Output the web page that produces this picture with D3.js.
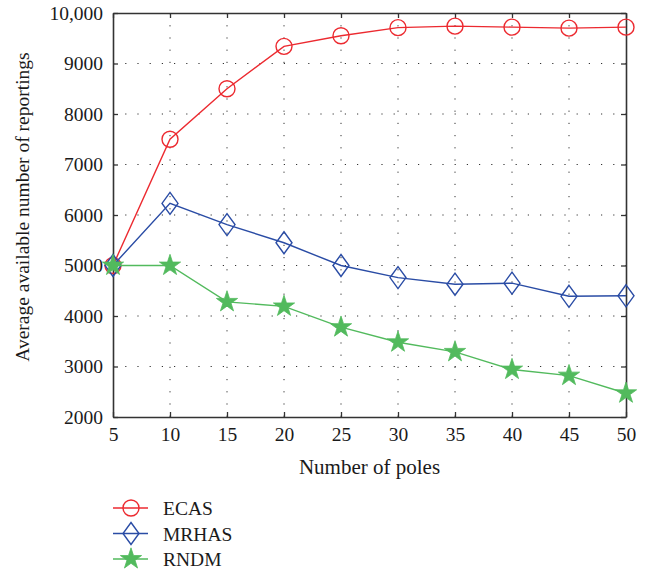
<!DOCTYPE html>
<html>
<head>
<meta charset="utf-8">
<script src="https://cdn.jsdelivr.net/npm/d3@7"></script>
<style>
  body { margin: 0; background: #fff; }
  text { font-family: 'Liberation Serif', 'DejaVu Serif', serif; fill: #1a1a1a; }
</style>
</head>
<body>
<svg id="chart" width="658" height="576"></svg>
<script>
'use strict';

// chart data
const poles = [5, 10, 15, 20, 25, 30, 35, 40, 45, 50];
const ecas = [5000, 7500, 8500, 9340, 9550, 9710, 9740, 9720, 9700, 9720];
const mrhas = [5000, 6230, 5810, 5450, 5000, 4760, 4630, 4650, 4390, 4400];
const rndm = [5000, 5000, 4280, 4190, 3780, 3480, 3290, 2940, 2820, 2470];
const yTicks = [2000, 3000, 4000, 5000, 6000, 7000, 8000, 9000, 10000];
const seriesNames = ['ECAS', 'MRHAS', 'RNDM'];

const margin = { top: 13, right: 32, bottom: 159, left: 113 };
const width = 658 - margin.left - margin.right;
const height = 576 - margin.top - margin.bottom;

const svg = d3.select('#chart');
const g = svg
  .append('g')
  .attr('transform', 'translate(' + margin.left + ',' + margin.top + ')');

const x = d3.scaleLinear().domain([5, 50]).range([0, width]);
const y = d3.scaleLinear().domain([2000, 10000]).range([height, 0]);

// dotted grid
g.selectAll('.vgrid')
  .data(poles.slice(1, -1))
  .enter()
  .append('line')
  .attr('x1', d => x(d))
  .attr('x2', d => x(d))
  .attr('y1', 0)
  .attr('y2', height)
  .attr('stroke', '#333')
  .attr('stroke-width', 1)
  .attr('stroke-dasharray', '1.2,11');
g.selectAll('.hgrid')
  .data(yTicks.slice(1, -1))
  .enter()
  .append('line')
  .attr('x1', 0)
  .attr('x2', width)
  .attr('y1', d => y(d))
  .attr('y2', d => y(d))
  .attr('stroke', '#333')
  .attr('stroke-width', 1)
  .attr('stroke-dasharray', '1.2,11');

// axes with inward ticks on all four sides
const fmt = d => (d === 10000 ? '10,000' : String(d));
const axisStyle = sel => {
  sel.select('.domain').attr('stroke', '#333').attr('stroke-width', 1.6);
  sel.selectAll('.tick line').attr('stroke', '#333').attr('stroke-width', 1.3);
  sel.selectAll('text').style('font-size', '19.5px').attr('fill', '#1a1a1a');
};

g.append('g')
  .attr('transform', 'translate(0,' + height + ')')
  .call(d3.axisBottom(x).tickValues(poles).tickSizeInner(-5).tickSizeOuter(0).tickPadding(10))
  .call(axisStyle);
g.append('g')
  .call(d3.axisTop(x).tickValues(poles).tickSizeInner(-5).tickSizeOuter(0).tickFormat(''))
  .call(axisStyle);
g.append('g')
  .call(d3.axisLeft(y).tickValues(yTicks).tickSizeInner(-5).tickSizeOuter(0).tickPadding(10).tickFormat(fmt))
  .call(axisStyle);
g.append('g')
  .attr('transform', 'translate(' + width + ',0)')
  .call(d3.axisRight(y).tickValues(yTicks).tickSizeInner(-5).tickSizeOuter(0).tickFormat(''))
  .call(axisStyle);

// axis titles
svg
  .append('text')
  .attr('x', margin.left + width / 2)
  .attr('y', 474)
  .attr('text-anchor', 'middle')
  .style('font-size', '21px')
  .text('Number of poles');
svg
  .append('text')
  .attr('transform', 'translate(29,207) rotate(-90)')
  .attr('text-anchor', 'middle')
  .style('font-size', '19.5px')
  .text('Average available number of reportings');

// series
const series = [
  { name: seriesNames[0], values: ecas, color: '#ec2a30', marker: 'circle' },
  { name: seriesNames[1], values: mrhas, color: '#2a4ca5', marker: 'diamond' },
  { name: seriesNames[2], values: rndm, color: '#52ba5d', marker: 'star' },
];

const line = d3
  .line()
  .x(d => x(d[0]))
  .y(d => y(d[1]));

function drawMarker(sel, type, color) {
  if (type === 'circle') {
    sel.append('circle').attr('r', 8).attr('fill', 'none').attr('stroke', color).attr('stroke-width', 1.4);
  } else if (type === 'diamond') {
    sel.append('path').attr('d', 'M0,-11L8,0L0,11L-8,0Z').attr('fill', 'none').attr('stroke', color).attr('stroke-width', 1.4);
  } else {
    sel.append('path').attr('d', d3.symbol(d3.symbolStar, 140)()).attr('fill', color).attr('stroke', color).attr('stroke-width', 0.8);
  }
}

series.forEach(s => {
  const pts = poles.map((p, i) => [p, s.values[i]]);
  g.append('path')
    .datum(pts)
    .attr('fill', 'none')
    .attr('stroke', s.color)
    .attr('stroke-width', 1.4)
    .attr('d', line);
  pts.forEach(p => {
    const m = g.append('g').attr('transform', 'translate(' + x(p[0]) + ',' + y(p[1]) + ')');
    drawMarker(m, s.marker, s.color);
  });
});

// legend
const legend = svg.append('g').attr('transform', 'translate(113,508)');
series.forEach((s, i) => {
  const row = legend.append('g').attr('transform', 'translate(0,' + i * 25.5 + ')');
  row.append('line').attr('x1', 0).attr('x2', 35).attr('stroke', s.color).attr('stroke-width', 1.4);
  drawMarker(row.append('g').attr('transform', 'translate(18,0)'), s.marker, s.color);
  row.append('text').attr('x', 50).attr('y', 7).style('font-size', '19.5px').text(s.name);
});
</script>
</body>
</html>
